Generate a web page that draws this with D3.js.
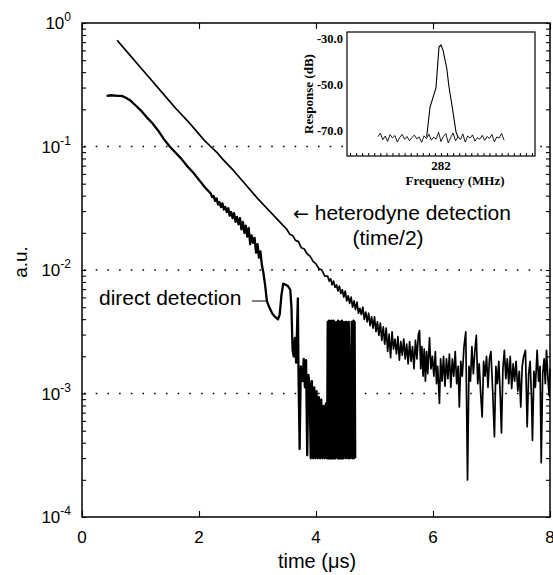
<!DOCTYPE html>
<html>
<head>
<meta charset="utf-8">
<script src="https://cdn.jsdelivr.net/npm/d3@7"></script>
<style>
  body { margin: 0; background: #fff; }
  svg text { font-family: "Liberation Sans", Arial, sans-serif; fill: #000; }
  .inset text { font-family: "Liberation Serif", "Times New Roman", serif; font-weight: bold; }
</style>
</head>
<body>
<div class="chart"></div>
<script>
// ---- data ----
const xTicks = [0, 2, 4, 6, 8];
const yTicks = [1e-4, 1e-3, 1e-2, 1e-1, 1];
const yExponents = ["-4", "-3", "-2", "-1", "0"];
const gridValues = [1e-3, 1e-2, 1e-1];

// [time (us), log10(a.u.)]
const heterodyneLog10 = [
  [0.60,-0.14],[0.80,-0.25],[1.00,-0.36],[1.20,-0.47],[1.40,-0.58],[1.60,-0.69],[1.80,-0.79],
  [2.00,-0.90],[2.10,-0.955],[2.20,-1.00],[2.30,-1.045],[2.40,-1.10],[2.60,-1.20],[2.80,-1.31],
  [3.00,-1.42],[3.20,-1.52],[3.40,-1.62],[3.50,-1.67],[3.55,-1.71],[3.60,-1.72],[3.65,-1.76],
  [3.70,-1.77],[3.75,-1.82],[3.80,-1.83],[3.85,-1.87],[3.90,-1.89],[3.95,-1.93],[4.00,-1.95],
  [4.05,-1.99],[4.10,-2.00],[4.15,-2.05],
  [4.200,-2.05],[4.225,-2.09],[4.250,-2.07],[4.275,-2.12],[4.300,-2.09],[4.325,-2.14],[4.350,-2.12],
  [4.375,-2.17],[4.400,-2.13],[4.425,-2.19],[4.450,-2.16],[4.475,-2.22],[4.500,-2.17],[4.525,-2.25],
  [4.550,-2.21],[4.575,-2.27],[4.600,-2.22],[4.625,-2.30],[4.650,-2.25],[4.675,-2.32],[4.700,-2.26],
  [4.725,-2.35],[4.750,-2.31],[4.775,-2.36],[4.800,-2.30],[4.825,-2.40],[4.850,-2.34],[4.875,-2.42],
  [4.900,-2.35],[4.925,-2.45],[4.950,-2.38],[4.975,-2.47],[5.000,-2.38],[5.025,-2.50],[5.050,-2.42],
  [5.075,-2.53],[5.100,-2.43],[5.125,-2.57],[5.150,-2.46],[5.175,-2.60],[5.200,-2.47],[5.225,-2.66],
  [5.250,-2.52],[5.275,-2.71],[5.300,-2.50],[5.325,-2.64],[5.350,-2.56],[5.375,-2.68],[5.400,-2.54],
  [5.425,-2.73],[5.450,-2.58],[5.475,-2.69],[5.500,-2.56],[5.525,-2.72],[5.550,-2.60],[5.575,-2.76],
  [5.600,-2.58],[5.625,-2.74],[5.650,-2.62],[5.675,-2.80],[5.700,-2.57],[5.725,-2.72],[5.750,-2.52],
  [5.770,-2.49],[5.790,-2.80],[5.810,-2.62],[5.830,-2.86],[5.850,-2.64],[5.870,-2.90],[5.890,-2.66],
  [5.910,-2.84],[5.940,-2.55],[5.965,-2.80],[5.990,-2.70],[6.015,-2.86],[6.040,-2.66],[6.060,-2.92],
  [6.080,-2.78],[6.110,-3.08],[6.130,-2.72],[6.155,-2.90],[6.180,-2.70],[6.205,-2.94],[6.230,-2.72],
  [6.255,-2.88],[6.280,-2.68],[6.305,-2.95],[6.330,-2.72],[6.355,-2.86],[6.380,-2.66],[6.405,-2.92],
  [6.430,-2.78],[6.450,-3.11],[6.475,-2.74],[6.500,-2.86],[6.530,-2.62],[6.560,-2.50],[6.590,-3.70],
  [6.615,-2.78],[6.640,-2.90],[6.665,-2.62],[6.690,-2.84],[6.715,-2.66],[6.740,-2.53],[6.765,-2.92],
  [6.790,-2.76],[6.815,-3.00],[6.840,-3.19],[6.865,-2.74],[6.890,-2.86],[6.915,-2.70],[6.940,-2.95],
  [6.965,-2.72],[6.990,-2.66],[7.020,-2.98],[7.050,-3.35],[7.075,-2.78],[7.100,-2.92],[7.125,-2.74],
  [7.150,-3.02],[7.170,-3.32],[7.195,-2.80],[7.220,-2.65],[7.245,-2.88],[7.270,-2.72],[7.295,-2.92],
  [7.320,-2.70],[7.345,-2.96],[7.370,-2.76],[7.395,-2.90],[7.420,-2.74],[7.450,-2.98],[7.475,-2.82],
  [7.500,-3.11],[7.525,-2.78],[7.550,-2.70],[7.580,-2.65],[7.610,-3.27],[7.635,-2.84],[7.660,-2.74],
  [7.685,-3.05],[7.700,-3.38],[7.725,-2.82],[7.750,-2.95],[7.780,-2.65],[7.805,-2.90],[7.830,-2.78],
  [7.850,-3.56],[7.875,-2.84],[7.900,-2.72],[7.920,-2.92],[7.940,-2.65],[7.965,-2.88],[7.985,-3.02],
  [8.000,-2.80]
];

const directLog10 = [
  [0.42,-0.59],[0.50,-0.585],[0.60,-0.59],[0.68,-0.59],[0.75,-0.605],[0.82,-0.625],[0.90,-0.66],
  [1.00,-0.705],[1.10,-0.76],[1.20,-0.81],[1.30,-0.87],[1.40,-0.94],[1.50,-1.00],[1.60,-1.05],
  [1.70,-1.10],[1.80,-1.16],[1.90,-1.21],[2.00,-1.27],[2.10,-1.33],
  [2.200,-1.38],[2.225,-1.41],[2.250,-1.40],[2.275,-1.44],[2.300,-1.42],[2.325,-1.47],[2.350,-1.45],
  [2.375,-1.49],[2.400,-1.46],[2.425,-1.51],[2.450,-1.49],[2.475,-1.53],[2.500,-1.50],[2.525,-1.56],
  [2.550,-1.53],[2.575,-1.58],[2.600,-1.54],[2.625,-1.61],[2.650,-1.57],[2.675,-1.63],[2.700,-1.58],
  [2.725,-1.67],[2.750,-1.61],[2.775,-1.70],[2.800,-1.64],[2.825,-1.73],[2.850,-1.66],[2.875,-1.79],
  [2.900,-1.72],[2.925,-1.78],[2.950,-1.74],[2.975,-1.86],[3.000,-1.79],[3.025,-1.90],[3.050,-1.85],
  [3.075,-1.96],[3.10,-2.02],[3.13,-2.12],
  [3.16,-2.25],[3.20,-2.30],[3.25,-2.35],[3.30,-2.38],[3.35,-2.40],[3.38,-2.36],[3.41,-2.20],
  [3.44,-2.11],[3.48,-2.12],[3.52,-2.13],[3.56,-2.16],[3.58,-2.30],[3.60,-2.65],[3.62,-2.70],
  [3.64,-2.55],[3.66,-2.75],[3.69,-2.23],[3.70,-2.80],[3.72,-3.45],[3.74,-2.78],[3.77,-2.90],
  [3.79,-2.72],[3.81,-2.95],[3.83,-2.73],[3.85,-3.50],[3.87,-2.85],[3.89,-2.92],[3.91,-3.525],
  [3.93,-2.90],[3.95,-3.525],[3.97,-2.95],[3.99,-3.525],[4.01,-2.98],[4.03,-3.525],[4.05,-3.03],
  [4.07,-3.525],[4.09,-3.05],[4.11,-3.525],[4.13,-3.10],[4.15,-3.525],[4.17,-3.08],[4.19,-3.525],
  [4.20,-2.42],[4.21,-3.525],[4.22,-2.41],[4.23,-3.525],[4.24,-2.42],[4.25,-3.525],[4.26,-2.41],
  [4.27,-3.525],[4.28,-2.42],[4.29,-3.525],[4.30,-2.41],[4.31,-3.525],[4.32,-2.42],[4.33,-3.525],
  [4.36,-2.42],[4.37,-3.525],[4.38,-2.41],[4.39,-3.525],[4.40,-2.42],[4.41,-3.525],[4.42,-2.42],
  [4.43,-3.525],[4.44,-2.41],[4.45,-3.525],[4.46,-2.42],[4.47,-3.525],[4.50,-2.42],[4.51,-3.525],
  [4.52,-2.42],[4.55,-3.525],[4.56,-2.42],[4.58,-3.525],[4.61,-2.42],[4.62,-3.525],[4.64,-2.41],
  [4.65,-3.525],[4.66,-2.42],[4.67,-3.525]
];

// inset: [frequency (MHz), response (dB)]
const insetYTicks = [-30, -50, -70];
const insetXLabel = [282];
const insetPeak = [
  [279.64,-72.5],[280.19,-59.7],[281.17,-51.5],[281.67,-33.9],[282.0,-33.0],[282.33,-35.2],
  [282.94,-42.9],[283.32,-51.1],[283.93,-61.0],[284.47,-70.4],[284.8,-72.6]
];
const insetNoise = [
  [271.6,-72.5],[272.0,-71.0],[272.4,-73.8],[272.8,-72.2],[273.2,-74.5],[273.6,-71.6],[274.0,-73.0],
  [274.4,-72.0],[274.8,-74.8],[275.2,-72.8],[275.6,-71.5],[276.0,-73.6],[276.4,-72.4],[276.8,-74.2],
  [277.2,-72.9],[277.6,-71.8],[278.0,-73.4],[278.4,-72.6],[278.8,-74.9],[279.2,-72.1],[279.6,-73.3],
  [280.0,-71.4],[280.4,-74.0],[280.8,-72.7],[281.2,-73.5],[281.6,-70.6],[282.0,-74.6],[282.4,-72.3],
  [282.8,-71.2],[283.2,-75.2],[283.6,-72.8],[284.0,-70.9],[284.4,-74.3],[284.8,-72.5],[285.2,-73.7],
  [285.6,-71.3],[286.0,-74.8],[286.4,-72.2],[286.8,-73.1],[287.2,-71.7],[287.6,-74.4],[288.0,-72.9],
  [288.4,-73.6],[288.8,-71.9],[289.2,-74.1],[289.6,-72.4],[290.0,-73.2],[290.4,-71.5],[290.8,-74.7],
  [291.2,-72.6],[291.6,-73.0],[292.0,-71.1],[292.4,-74.0]
];

// ---- drawing ----
const width = 553, height = 575;
const svg = d3.select(".chart").append("svg")
  .attr("width", width)
  .attr("height", height);

const x = d3.scaleLinear().domain([0, 8]).range([82, 550]);
const y = d3.scaleLog().domain([1e-4, 1]).range([517, 23]);

// dotted grid lines
svg.append("g").selectAll("line")
  .data(gridValues)
  .join("line")
    .attr("x1", x(0) + 2).attr("x2", x(8))
    .attr("y1", d => y(d)).attr("y2", d => y(d))
    .attr("stroke", "#000")
    .attr("stroke-width", 1.6)
    .attr("stroke-dasharray", "1.6 10.1");

// axes (ticks pointing inward)
function cleanAxis(g) {
  g.select(".domain").remove();
  g.selectAll("line").attr("stroke", "#000").attr("stroke-width", 1.1);
}
svg.append("g").attr("transform", "translate(" + x(0) + ",0)")
  .call(d3.axisLeft(y).tickValues(y.ticks()).tickSize(-4).tickFormat(""))
  .call(cleanAxis);
svg.append("g").attr("transform", "translate(" + x(8) + ",0)")
  .call(d3.axisRight(y).tickValues(y.ticks()).tickSize(-4).tickFormat(""))
  .call(cleanAxis);
svg.append("g").attr("transform", "translate(0," + y(1e-4) + ")")
  .call(d3.axisBottom(x).tickValues(xTicks).tickSize(-6).tickFormat(""))
  .call(cleanAxis);
svg.append("g").attr("transform", "translate(0," + y(1) + ")")
  .call(d3.axisTop(x).tickValues(xTicks).tickSize(-6).tickFormat(""))
  .call(cleanAxis);

// frame
svg.append("rect")
  .attr("x", x(0)).attr("y", y(1))
  .attr("width", x(8) - x(0)).attr("height", y(1e-4) - y(1))
  .attr("fill", "none").attr("stroke", "#000").attr("stroke-width", 1.5);

// tick labels
svg.append("g").selectAll("text")
  .data(xTicks)
  .join("text")
    .attr("x", d => x(d))
    .attr("y", 543)
    .attr("text-anchor", "middle")
    .style("font-size", "17px")
    .text(d => d);

const yLabels = svg.append("g").selectAll("text")
  .data(yTicks)
  .join("text")
    .attr("x", 71)
    .attr("y", d => y(d) + 6)
    .attr("text-anchor", "end")
    .style("font-size", "17px");
yLabels.append("tspan").text("10");
yLabels.append("tspan")
  .attr("dy", -8)
  .style("font-size", "12px")
  .text((d, i) => yExponents[i]);

// axis titles
svg.append("text")
  .attr("x", 317).attr("y", 568)
  .attr("text-anchor", "middle")
  .style("font-size", "20px")
  .text("time (\u03bcs)");
svg.append("text")
  .attr("transform", "translate(27,262) rotate(-90)")
  .attr("text-anchor", "middle")
  .style("font-size", "19px")
  .text("a.u.");

// curves
const line = d3.line()
  .x(d => x(d[0]))
  .y(d => y(Math.pow(10, d[1])));

svg.append("path")
  .datum(heterodyneLog10)
  .attr("d", line)
  .attr("fill", "none")
  .attr("stroke", "#000")
  .attr("stroke-width", 1.7)
  .attr("stroke-linejoin", "round");

svg.append("path")
  .datum(directLog10)
  .attr("d", line)
  .attr("fill", "none")
  .attr("stroke", "#000")
  .attr("stroke-width", 2.3)
  .attr("stroke-linejoin", "round");

// annotations
const hetLabel = svg.append("text")
  .attr("x", 293).attr("y", 220)
  .style("font-size", "21px");
hetLabel.append("tspan")
  .style("font-family", "'DejaVu Sans', sans-serif")
  .style("font-size", "19px")
  .text("\u2190");
hetLabel.append("tspan").text(" heterodyne detection");
svg.append("text")
  .attr("x", 388).attr("y", 245)
  .attr("text-anchor", "middle")
  .style("font-size", "21px")
  .text("(time/2)");
svg.append("text")
  .attr("x", 99).attr("y", 305)
  .style("font-size", "21px")
  .text("direct detection");
svg.append("line")
  .attr("x1", 252).attr("x2", 268)
  .attr("y1", 301).attr("y2", 301)
  .attr("stroke", "#000").attr("stroke-width", 1);

// ---- inset ----
const inset = svg.append("g").attr("class", "inset");
const xi = d3.scaleLinear().domain([266.5, 297.5]).range([347, 535]);
const yi = d3.scaleLinear().domain([-80.8, -27.4]).range([156, 32]);

inset.append("rect")
  .attr("x", xi(266.5)).attr("y", yi(-27.4))
  .attr("width", xi(297.5) - xi(266.5)).attr("height", yi(-80.8) - yi(-27.4))
  .attr("fill", "#fff").attr("stroke", "#000").attr("stroke-width", 1.2);

inset.append("g").attr("transform", "translate(0," + yi(-80.8) + ")")
  .call(d3.axisBottom(xi).tickValues(xi.ticks(30)).tickSize(-3).tickFormat(""))
  .call(g => {
    g.select(".domain").remove();
    g.selectAll("line").attr("stroke", "#000").attr("stroke-width", 1);
  });

inset.append("g").selectAll("text")
  .data(insetYTicks)
  .join("text")
    .attr("x", 343)
    .attr("y", d => yi(d) + 4.5)
    .attr("text-anchor", "end")
    .style("font-size", "12.5px")
    .text(d => d.toFixed(1));

inset.append("g").selectAll("text")
  .data(insetXLabel)
  .join("text")
    .attr("x", d => xi(d))
    .attr("y", 170)
    .attr("text-anchor", "middle")
    .style("font-size", "13px")
    .text(d => d);

inset.append("text")
  .attr("x", 455).attr("y", 185)
  .attr("text-anchor", "middle")
  .style("font-size", "13px")
  .text("Frequency (MHz)");

inset.append("text")
  .attr("transform", "translate(313,94) rotate(-90)")
  .attr("text-anchor", "middle")
  .style("font-size", "13px")
  .text("Response (dB)");

const insetLine = d3.line()
  .x(d => xi(d[0]))
  .y(d => yi(d[1]));

inset.append("path")
  .datum(insetNoise)
  .attr("d", insetLine)
  .attr("fill", "none")
  .attr("stroke", "#000")
  .attr("stroke-width", 0.9);

inset.append("path")
  .datum(insetPeak)
  .attr("d", insetLine)
  .attr("fill", "none")
  .attr("stroke", "#000")
  .attr("stroke-width", 1.1);
</script>
</body>
</html>
